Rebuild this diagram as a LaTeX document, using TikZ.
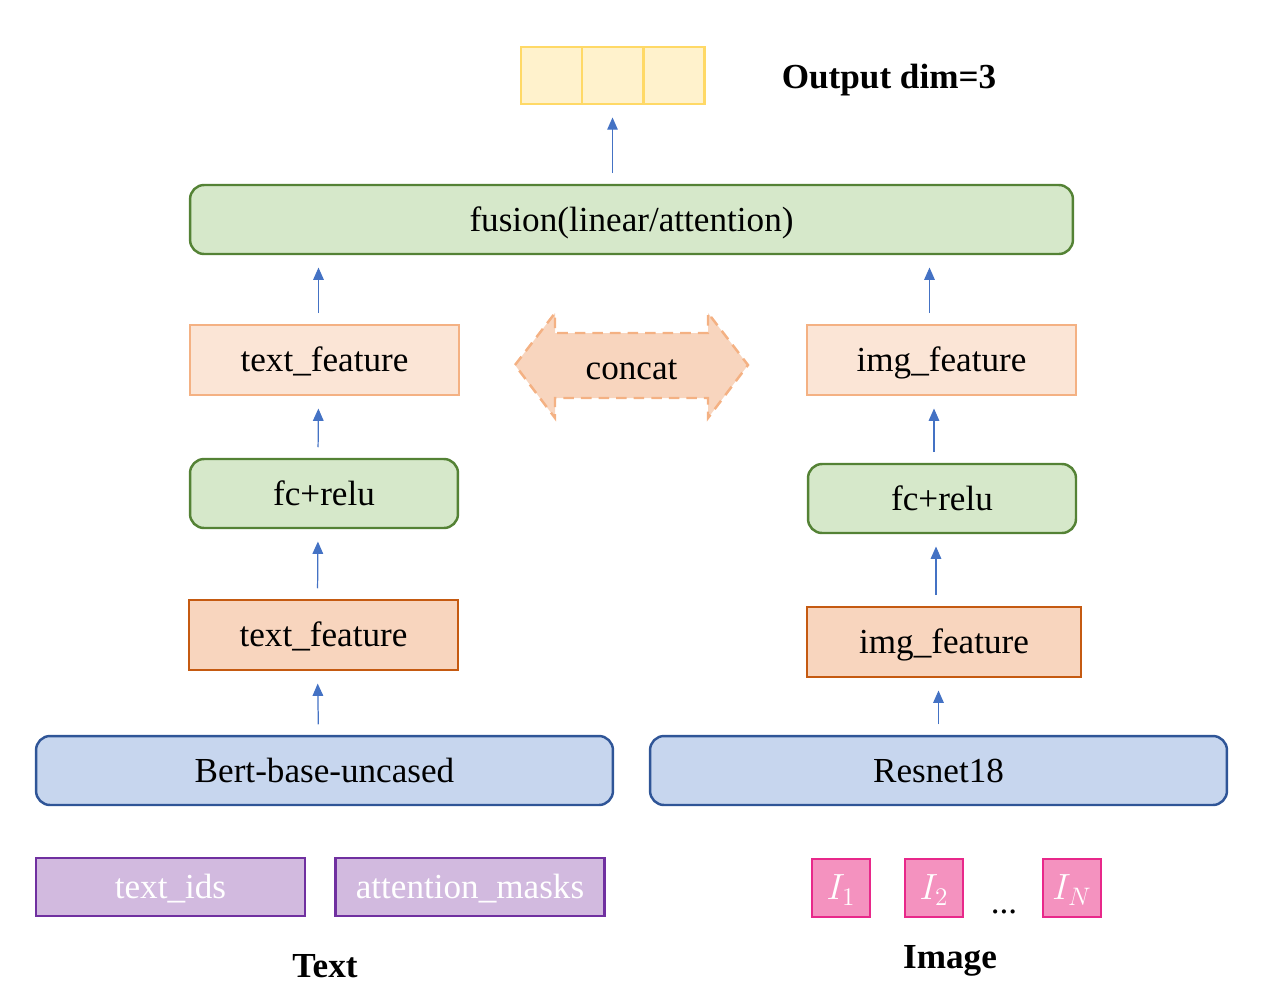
\documentclass[tikz,border=0pt]{standalone}
\usepackage{fontspec}
\setmainfont{Liberation Serif}
\usepackage{xcolor}
\usetikzlibrary{arrows.meta,positioning,calc}

\definecolor{outfill}{HTML}{FFF2CC}
\definecolor{outdraw}{HTML}{FFD966}
\definecolor{grnfill}{HTML}{D6E8CA}
\definecolor{grndraw}{HTML}{548235}
\definecolor{featfill}{HTML}{FBE5D6}
\definecolor{featdraw}{HTML}{F4B183}
\definecolor{rawfill}{HTML}{F8D5BE}
\definecolor{rawdraw}{HTML}{C55A11}
\definecolor{encfill}{HTML}{C7D6EE}
\definecolor{encdraw}{HTML}{2F5597}
\definecolor{inpfill}{HTML}{D2BADF}
\definecolor{inpdraw}{HTML}{7030A0}
\definecolor{imgfill}{HTML}{F492BF}
\definecolor{imgdraw}{HTML}{E8288A}
\definecolor{arrblue}{HTML}{4472C4}

\begin{document}
\begin{tikzpicture}[
    x=0.02cm, y=-0.02cm,
    font=\fontsize{20}{24}\selectfont,
    arr/.style={-{Triangle[length=7pt,width=6pt]}, arrblue, line width=0.7pt, shorten <=6pt, shorten >=7pt},
    box/.style={line width=1.4pt, inner sep=0pt, text height=16pt, text depth=2.4pt},
    cell/.style={draw=outdraw, fill=outfill, line width=1.3pt, minimum width=1.22cm, minimum height=1.14cm, inner sep=0pt},
    block/.style={box, draw=grndraw, fill=grnfill, rounded corners=8pt, minimum height=1.38cm},
    feat/.style={box, draw=featdraw, fill=featfill, minimum width=5.38cm, minimum height=1.4cm},
    rawfeat/.style={box, draw=rawdraw, fill=rawfill, minimum height=1.4cm},
    enc/.style={box, draw=encdraw, fill=encfill, rounded corners=8pt, minimum width=11.54cm, minimum height=1.38cm},
    inp/.style={box, draw=inpdraw, fill=inpfill, minimum width=5.38cm, minimum height=1.16cm, text=white},
    img/.style={box, draw=imgdraw, fill=imgfill, minimum size=1.16cm, text=white},
    lbl/.style={font=\fontsize{20}{24}\selectfont\bfseries},
]
\useasboundingbox (0,0) rectangle (1261,995);

% ========== Output ==========
\node[cell] (out1) at (551.5,75.5) {};
\node[cell] (out2) at (612.5,75.5) {};
\node[cell] (out3) at (674,75.5) {};
\node[lbl] (outlbl) at (889,80) {Output dim=3};

% ========== Fusion ==========
\node[block, minimum width=17.66cm] (fusion) at (631.5,219.5) {fusion(linear/attention)};

% ========== Text branch ==========
\node[feat] (tfeat) at (324.5,360) {text\_feature};
\node[block, minimum width=5.36cm] (tfc) at (324,493.5) {fc+relu};
\node[rawfeat, minimum width=5.38cm] (traw) at (323.5,635) {text\_feature};
\node[enc] (bert) at (324.5,770.5) {Bert-base-uncased};
\node[inp] (tids) at (170.5,887) {text\_ids};
\node[inp] (tmask) at (470,887) {attention\_masks};
\node[lbl] (textlbl) at (325,966) {Text};

% ========== Image branch ==========
\node[feat] (ifeat) at (941.5,360) {img\_feature};
\node[block, minimum width=5.36cm] (ifc) at (942,498.5) {fc+relu};
\node[rawfeat, minimum width=5.48cm] (iraw) at (944,642) {img\_feature};
\node[enc] (resnet) at (938.5,770.5) {Resnet18};
\node[img] (img1) at (841,888) {$I_1$};
\node[img] (img2) at (934,888) {$I_2$};
\node[img] (imgN) at (1072,888) {$I_N$};
\node (dots) at (1004,912) {...};
\node[lbl] (imglbl) at (950,961) {Image};

% ========== Concat (double arrow) ==========
\draw[draw=featdraw, fill=rawfill, line width=1.4pt, dashed, dash pattern=on 6pt off 4pt]
    (515,365) -- (555,313) -- (555,333) -- (708,333) -- (708,313) -- (748,365)
    -- (708,418) -- (708,398) -- (555,398) -- (555,418) -- cycle;
\node[box] (concat) at (631.5,368) {concat};

% ========== Arrows ==========
\draw[arr] ([xshift=-0.12cm]bert.north) -- ([xshift=-0.12cm]traw.south);
\draw[arr] ([xshift=-0.12cm]traw.north) -- ([xshift=-0.12cm]tfc.south);
\draw[arr] ([xshift=-0.12cm]tfc.north) -- ([xshift=-0.12cm]tfeat.south);
\draw[arr] ([xshift=-0.12cm]tfeat.north) -- ([xshift=-0.12cm]tfeat.north |- fusion.south);
\draw[arr] (resnet.north) -- (resnet.north |- iraw.south);
\draw[arr] ([xshift=-0.16cm]iraw.north) -- ([xshift=-0.16cm]iraw.north |- ifc.south);
\draw[arr] ([xshift=-0.16cm]ifc.north) -- ([xshift=-0.16cm]ifc.north |- ifeat.south);
\draw[arr] ([xshift=-0.24cm]ifeat.north) -- ([xshift=-0.24cm]ifeat.north |- fusion.south);
\draw[arr] (fusion.north -| out2) -- (out2.south);

\end{tikzpicture}
\end{document}
